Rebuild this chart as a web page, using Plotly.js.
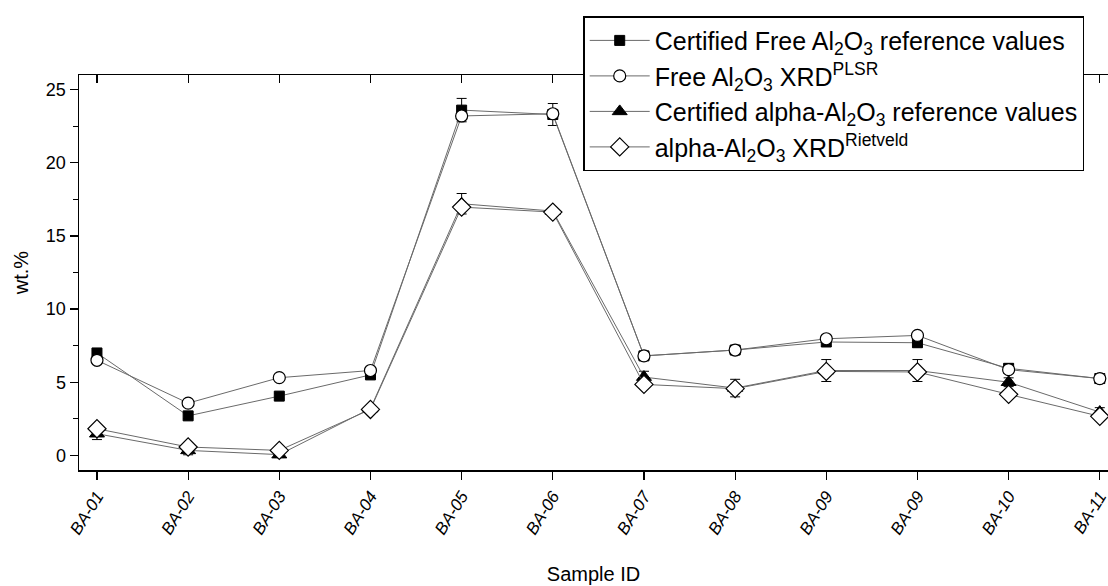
<!DOCTYPE html>
<html>
<head>
<meta charset="utf-8">
<script src="https://cdn.plot.ly/plotly-3.0.1.min.js"></script>
<style>html,body{margin:0;padding:0;background:#fff;}#chart{width:1108px;height:586px;}</style>
</head>
<body>
<div id="chart"></div>
<script>
const sampleIds = ["BA-01","BA-02","BA-03","BA-04","BA-05","BA-06","BA-07","BA-08","BA-09","BA-09","BA-10","BA-11"];
const certFree   = [7.0, 2.7, 4.05, 5.5, 23.6, 23.3, 6.8, 7.2, 7.75, 7.7, 5.95, 5.25];
const certFreeErr= [0.2, 0.2, 0.2, 0.2, 0.8, 0.75, 0.3, 0.3, 0.3, 0.3, 0.3, 0.3];
const xrdPlsr    = [6.5, 3.57, 5.31, 5.8, 23.2, 23.35, 6.8, 7.2, 7.97, 8.2, 5.86, 5.25];
const certAlpha  = [1.48, 0.34, 0.05, 3.2, 17.2, 16.7, 5.35, 4.6, 5.8, 5.8, 5.0, 2.96];
const certAlphaErr=[0.4, 0.3, 0.2, 0.2, 0.7, 0.2, 0.4, 0.6, 0.75, 0.75, 0.3, 0.3];
const xrdRietveld= [1.82, 0.57, 0.34, 3.14, 16.97, 16.63, 4.85, 4.56, 5.74, 5.7, 4.17, 2.67];

const xIdx = sampleIds.map((_, i) => i);
const lineColor = "#6a6a6a";

const traces = [
  {x: xIdx, y: certFree, mode: "lines+markers", name: "Certified Free Al<sub>2</sub>O<sub>3</sub> reference values",
   line: {color: lineColor, width: 1},
   marker: {symbol: "square", size: 10, color: "#000", line: {color: "#000", width: 1}},
   error_y: {type: "data", array: certFreeErr, visible: true, color: "#000", thickness: 1, width: 5}},
  {x: xIdx, y: xrdPlsr, mode: "lines+markers", name: "Free Al<sub>2</sub>O<sub>3</sub> XRD<sup>PLSR</sup>",
   line: {color: lineColor, width: 1},
   marker: {symbol: "circle", size: 12, color: "#fff", line: {color: "#000", width: 1.2}}},
  {x: xIdx, y: certAlpha, mode: "lines+markers", name: "Certified alpha-Al<sub>2</sub>O<sub>3</sub> reference values",
   line: {color: lineColor, width: 1},
   marker: {symbol: "triangle-up", size: 13, color: "#000", line: {color: "#000", width: 1}},
   error_y: {type: "data", array: certAlphaErr, visible: true, color: "#000", thickness: 1, width: 5}},
  {x: xIdx, y: xrdRietveld, mode: "lines+markers", name: "alpha-Al<sub>2</sub>O<sub>3</sub> XRD<sup>Rietveld</sup>",
   line: {color: lineColor, width: 1},
   marker: {symbol: "diamond", size: 14, color: "#fff", line: {color: "#000", width: 1.2}}}
];

const font = {family: "Liberation Sans, Arial, sans-serif", color: "#000"};

const layout = {
  width: 1108, height: 586,
  margin: {l: 79, r: 0, t: 75, b: 116},
  paper_bgcolor: "#fff", plot_bgcolor: "#fff",
  font: font,
  showlegend: true,
  legend: {x: 0.49, xanchor: "left", y: 1.149, yanchor: "top",
           bgcolor: "#fff", bordercolor: "#000", borderwidth: 1.5,
           font: {family: font.family, size: 25, color: "#000"},
           tracegroupgap: 0, itemwidth: 60},
  xaxis: {
    range: [-0.197, 11.09], tickmode: "array", tickvals: xIdx, ticktext: sampleIds,
    tickangle: -58, ticks: "outside", ticklen: 8, tickwidth: 1.2, tickcolor: "#000",
    ticklabeloverflow: "allow",
    showline: true, linecolor: "#000", linewidth: 1.5, showgrid: false, zeroline: false,
    tickfont: {family: font.family, size: 17, color: "#000", style: "italic"},
    title: {text: "Sample ID", font: {family: font.family, size: 20, color: "#000"}, standoff: 30}
  },
  xaxis2: {
    overlaying: "x", side: "top", range: [-0.197, 11.09], tickmode: "array", tickvals: xIdx,
    showticklabels: false, ticks: "inside", ticklen: 8, tickwidth: 1.2, tickcolor: "#000",
    showline: true, linecolor: "#000", linewidth: 1.5, showgrid: false, zeroline: false
  },
  yaxis: {
    range: [-1, 26], tickmode: "array", tickvals: [0, 5, 10, 15, 20, 25],
    ticks: "outside", ticklen: 8, tickwidth: 1.2, tickcolor: "#000",
    minor: {tickmode: "array", tickvals: [2.5, 7.5, 12.5, 17.5, 22.5], ticks: "outside", ticklen: 5, tickwidth: 1.2, tickcolor: "#000", showgrid: false},
    showline: true, linecolor: "#000", linewidth: 1.5, mirror: true, showgrid: false, zeroline: false,
    tickfont: {family: font.family, size: 18, color: "#000"},
    title: {text: "wt.%", font: {family: font.family, size: 20, color: "#000"}, standoff: 12}
  }
};

traces.push({x: [0], y: [null], xaxis: "x2", yaxis: "y", showlegend: false, hoverinfo: "skip", mode: "markers"});

Plotly.newPlot("chart", traces, layout, {displayModeBar: false, staticPlot: true});
</script>
</body>
</html>
